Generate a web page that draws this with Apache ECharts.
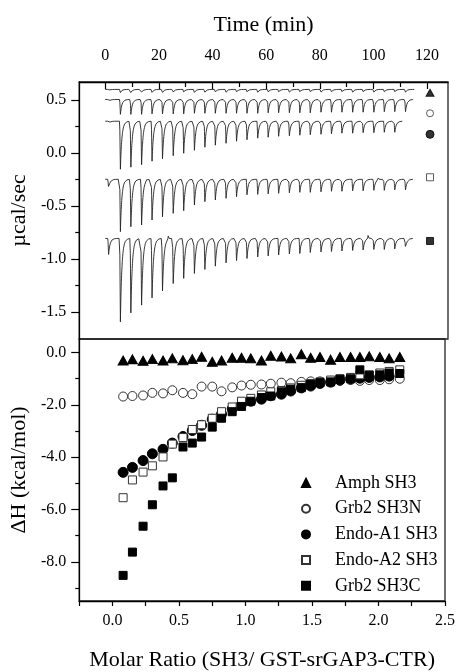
<!DOCTYPE html>
<html>
<head>
<meta charset="utf-8">
<script src="https://cdn.jsdelivr.net/npm/echarts@6.0.0/dist/echarts.min.js"></script>
<style>html,body{margin:0;padding:0;background:#fff}#c{width:458px;height:672px}</style>
</head>
<body>
<div id="c"></div>
<script>
// ---------- DATA ----------
// Top panel: raw ITC thermograms (µcal/sec vs time, min)
const injectionTimes = [1.0, 5.4, 9.3, 13.3, 17.2, 21.1, 25.1, 29.0, 33.0, 36.9, 40.8, 44.8, 48.7, 52.6, 56.6, 60.5, 64.4, 68.4, 72.3, 76.2, 80.2, 84.1, 88.0, 92.0, 95.9, 99.9, 103.8, 107.7, 111.7];
const traceNames = ['Amph SH3', 'Grb2 SH3N', 'Endo-A1 SH3', 'Endo-A2 SH3', 'Grb2 SH3C'];
const traceBaselines = [0.60, 0.505, 0.30, -0.248, -0.806];
const traceEnds = [115.2, 114.8, 111.0, 114.8, 114.8];
const amphPeakDepths = [0.01, 0.03, 0.03, 0.03, 0.028, 0.028, 0.028, 0.028, 0.028, 0.026, 0.026, 0.026, 0.026, 0.026, 0.026, 0.026, 0.026, 0.025, 0.025, 0.025, 0.025, 0.025, 0.025, 0.025, 0.025, 0.025, 0.025, 0.025, 0.025];
const grb2nPeakDepths = [0.02, 0.14, 0.14, 0.14, 0.135, 0.135, 0.135, 0.135, 0.13, 0.13, 0.13, 0.13, 0.13, 0.13, 0.13, 0.125, 0.125, 0.125, 0.125, 0.125, 0.12, 0.12, 0.12, 0.12, 0.12, 0.12, 0.115, 0.115, 0.115];
const endoA1PeakDepths = [0.02, 0.453, 0.434, 0.41, 0.377, 0.354, 0.325, 0.302, 0.274, 0.245, 0.226, 0.208, 0.189, 0.175, 0.16, 0.151, 0.142, 0.137, 0.132, 0.127, 0.123, 0.118, 0.113, 0.113, 0.108, 0.108, 0.104, 0.104];
const endoA2PeakDepths = [0.085, 0.494, 0.447, 0.431, 0.384, 0.353, 0.321, 0.296, 0.242, 0.211, 0.195, 0.179, 0.164, 0.146, 0.142, 0.137, 0.132, 0.127, 0.123, 0.123, 0.118, 0.113, 0.113, 0.108, 0.108, 0.104, 0.104, 0.099, 0.099];
const grb2cPeakDepths = [0.151, 0.787, 0.702, 0.629, 0.560, 0.494, 0.425, 0.377, 0.330, 0.292, 0.261, 0.230, 0.208, 0.189, 0.175, 0.165, 0.156, 0.146, 0.142, 0.132, 0.127, 0.123, 0.118, 0.113, 0.108, 0.104, 0.104, 0.099, 0.094];
const endoA2Spikes = [[15.5, 0.01], [101.8, 0.02]];
const grb2cSpikes = [[23.6, 0.04], [98.1, 0.04]];
const traceMarkerTime = 121.1;
const traceMarkerLevels = [0.569, 0.375, 0.176, -0.229, -0.83];

// Bottom panel: integrated heats (kcal/mol vs molar ratio)
const molarRatio = [0.08, 0.15, 0.23, 0.30, 0.38, 0.45, 0.53, 0.60, 0.67, 0.75, 0.82, 0.90, 0.97, 1.04, 1.12, 1.19, 1.27, 1.34, 1.42, 1.49, 1.56, 1.64, 1.71, 1.79, 1.86, 1.93, 2.01, 2.08, 2.16];
const amphSH3 = [-0.30, -0.26, -0.31, -0.25, -0.30, -0.22, -0.29, -0.25, -0.16, -0.35, -0.30, -0.20, -0.20, -0.22, -0.30, -0.12, -0.15, -0.22, -0.06, -0.20, -0.17, -0.27, -0.17, -0.17, -0.17, -0.14, -0.17, -0.22, -0.17];
const grb2SH3N = [-1.68, -1.66, -1.64, -1.54, -1.56, -1.44, -1.54, -1.59, -1.30, -1.30, -1.48, -1.33, -1.26, -1.23, -1.22, -1.19, -1.15, -1.17, -1.12, -1.10, -1.10, -1.08, -1.08, -1.05, -1.08, -1.05, -1.05, -1.02, -1.00];
const endoA1SH3 = [-4.58, -4.39, -4.13, -3.87, -3.70, -3.46, -3.21, -2.98, -2.78, -2.55, -2.35, -2.15, -1.98, -1.86, -1.78, -1.65, -1.59, -1.47, -1.35, -1.28, -1.18, -1.13, -1.05, -1.00, -0.98, -0.95, -0.93, -0.90];
const endoA2SH3 = [-5.55, -4.87, -4.57, -4.33, -3.99, -3.50, -3.25, -2.94, -2.76, -2.51, -2.26, -2.08, -1.86, -1.75, -1.62, -1.50, -1.45, -1.35, -1.25, -1.18, -1.12, -1.05, -1.00, -0.95, -0.85, -0.85, -0.78, -0.72, -0.66];
const grb2SH3C = [-8.52, -7.63, -6.64, -5.82, -5.10, -4.79, -3.61, -3.46, -3.23, -2.85, -2.51, -2.26, -2.06, -1.86, -1.72, -1.66, -1.50, -1.40, -1.34, -1.22, -1.15, -1.12, -1.02, -1.00, -0.66, -0.87, -0.85, -0.78, -0.80];

// Tick labels
const timeTicks = [0, 20, 40, 60, 80, 100, 120];
const timeMinorTicks = [10, 30, 50, 70, 90, 110];
const powerTicks = [-1.5, -1.0, -0.5, 0.0, 0.5];
const powerMinorTicks = [-1.25, -0.75, -0.25, 0.25];
const ratioTicks = [0.0, 0.5, 1.0, 1.5, 2.0, 2.5];
const heatTicks = [-8, -6, -4, -2, 0];
const heatMinorTicks = [-9, -7, -5, -3, -1];

// ---------- BUILD ----------
const FONT = 'Liberation Serif';
const DROP = 0.25, TAU = 0.55;
function buildTrace(base, end, depths, spikes) {
  const ts = [];
  for (let t = 0; t <= end + 1e-9; t += 0.05) ts.push(+t.toFixed(3));
  depths.forEach((d, k) => { ts.push(injectionTimes[k]); ts.push(injectionTimes[k] + DROP); });
  ts.sort((a, b) => a - b);
  const out = [];
  let last = -1;
  for (const t of ts) {
    if (t === last || t > end) continue;
    last = t;
    let y = base;
    depths.forEach((d, k) => {
      const s = t - injectionTimes[k];
      if (s < 0) return;
      y -= s < DROP ? d * (s / DROP) : d * Math.exp(-(s - DROP) / TAU);
    });
    (spikes || []).forEach(([st, h]) => { y += h * Math.exp(-Math.pow((t - st) / 0.2, 2)); });
    out.push([t, y]);
  }
  return out;
}
const depthSets = [amphPeakDepths, grb2nPeakDepths, endoA1PeakDepths, endoA2PeakDepths, grb2cPeakDepths];
const spikeSets = [null, null, null, endoA2Spikes, grb2cSpikes];

const symbols = [
  {symbol: 'triangle', fill: '#000', border: '#000', size: [10, 9], small: [8, 7]},
  {symbol: 'circle', fill: '#fff', border: '#333', size: 9, small: 7},
  {symbol: 'circle', fill: '#000', border: '#000', size: 10, small: 8},
  {symbol: 'rect', fill: '#fff', border: '#333', size: 8, small: 7},
  {symbol: 'rect', fill: '#000', border: '#000', size: 8, small: 7}
];
const heatSets = [amphSH3, grb2SH3N, endoA1SH3, endoA2SH3, grb2SH3C];

const series = [];
traceNames.forEach((n, i) => {
  series.push({
    name: n + ' trace', type: 'line', xAxisIndex: 0, yAxisIndex: 0,
    data: buildTrace(traceBaselines[i], traceEnds[i], depthSets[i], spikeSets[i]),
    showSymbol: false, symbol: 'none', lineStyle: {color: '#222', width: 0.9}, silent: true, z: 2
  });
  series.push({
    name: n + ' marker', type: 'scatter', xAxisIndex: 0, yAxisIndex: 0,
    data: [[traceMarkerTime, traceMarkerLevels[i]]],
    symbol: symbols[i].symbol, symbolSize: symbols[i].small,
    itemStyle: {color: symbols[i].fill, borderColor: symbols[i].border, borderWidth: 1}, z: 3
  });
});
traceNames.forEach((n, i) => {
  series.push({
    name: n, type: 'scatter', xAxisIndex: 2, yAxisIndex: 2,
    data: heatSets[i].map((v, j) => [molarRatio[j], v]),
    symbol: symbols[i].symbol, symbolSize: symbols[i].size,
    itemStyle: {color: symbols[i].fill, borderColor: symbols[i].border, borderWidth: 1, opacity: 1}, z: 3 + i
  });
});

const axisLine = {show: true, onZero: false, lineStyle: {color: '#000', width: 1.3}};
const noLine = {show: false, onZero: false};
const nameStyle = {fontFamily: FONT, fontSize: 22, color: '#000'};
const labelStyle = {fontFamily: FONT, fontSize: 16, color: '#000'};

const option = {
  animation: false,
  backgroundColor: '#fff',
  grid: [
    {left: 79, top: 82, width: 369, height: 257, show: true, borderColor: '#222', borderWidth: 1.3, backgroundColor: 'transparent'},
    {left: 79, top: 339, width: 369, height: 266, show: true, borderColor: '#222', borderWidth: 1.3, backgroundColor: 'transparent'}
  ],
  legend: {
    data: traceNames, orient: 'vertical', left: 296, top: 468,
    itemWidth: 8, itemHeight: 8, itemGap: 5.7,
    textStyle: {fontFamily: FONT, fontSize: 18, color: '#000', lineHeight: 20, padding: [0, 0, 0, 20]},
    selectedMode: false
  },
  xAxis: [
    {type: 'value', gridIndex: 0, position: 'top', min: -9.7, max: 127.8,
     axisLine: axisLine, splitLine: {show: false},
     axisTick: {show: true, inside: true, length: 7, customValues: timeTicks, lineStyle: {color: '#000', width: 1.2}},
     axisLabel: {show: true, customValues: timeTicks, margin: 18, ...labelStyle},
     name: 'Time (min)', nameLocation: 'middle', nameGap: 46, nameTextStyle: nameStyle},
    {type: 'value', gridIndex: 0, position: 'top', min: -9.7, max: 127.8,
     axisLine: noLine, splitLine: {show: false},
     axisTick: {show: true, inside: true, length: 5, customValues: timeMinorTicks, lineStyle: {color: '#000', width: 1.2}},
     axisLabel: {show: false}},
    {type: 'value', gridIndex: 1, position: 'bottom', min: -0.25, max: 2.5, interval: 0.25,
     axisLine: axisLine, splitLine: {show: false},
     axisTick: {show: true, inside: false, length: 5, lineStyle: {color: '#000', width: 1.2}},
     axisLabel: {show: true, customValues: ratioTicks, margin: 12, formatter: v => v.toFixed(1), ...labelStyle},
     name: 'Molar Ratio (SH3/ GST-srGAP3-CTR)', nameLocation: 'middle', nameGap: 48, nameTextStyle: nameStyle}
  ],
  yAxis: [
    {type: 'value', gridIndex: 0, position: 'left', min: -1.755, max: 0.67,
     axisLine: axisLine, splitLine: {show: false},
     axisTick: {show: true, inside: false, length: 8, customValues: powerTicks, lineStyle: {color: '#000', width: 1.2}},
     axisLabel: {show: true, customValues: powerTicks, margin: 13, formatter: v => v.toFixed(1), ...labelStyle},
     name: 'µcal/sec', nameLocation: 'middle', nameGap: 46, nameTextStyle: nameStyle},
    {type: 'value', gridIndex: 0, position: 'left', min: -1.755, max: 0.67,
     axisLine: noLine, splitLine: {show: false},
     axisTick: {show: true, inside: false, length: 4, customValues: powerMinorTicks, lineStyle: {color: '#000', width: 1.2}},
     axisLabel: {show: false}},
    {type: 'value', gridIndex: 1, position: 'left', min: -9.5, max: 0.52,
     axisLine: axisLine, splitLine: {show: false},
     axisTick: {show: true, inside: false, length: 8, customValues: heatTicks, lineStyle: {color: '#000', width: 1.2}},
     axisLabel: {show: true, customValues: heatTicks, margin: 13, formatter: v => v.toFixed(1), ...labelStyle},
     name: 'ΔH (kcal/mol)', nameLocation: 'middle', nameGap: 46, nameTextStyle: nameStyle},
    {type: 'value', gridIndex: 1, position: 'left', min: -9.5, max: 0.52,
     axisLine: noLine, splitLine: {show: false},
     axisTick: {show: true, inside: false, length: 4, customValues: heatMinorTicks, lineStyle: {color: '#000', width: 1.2}},
     axisLabel: {show: false}}
  ],
  series: series
};
const chart = echarts.init(document.getElementById('c'), null, {renderer: 'canvas'});
chart.setOption(option);
</script>
</body>
</html>
